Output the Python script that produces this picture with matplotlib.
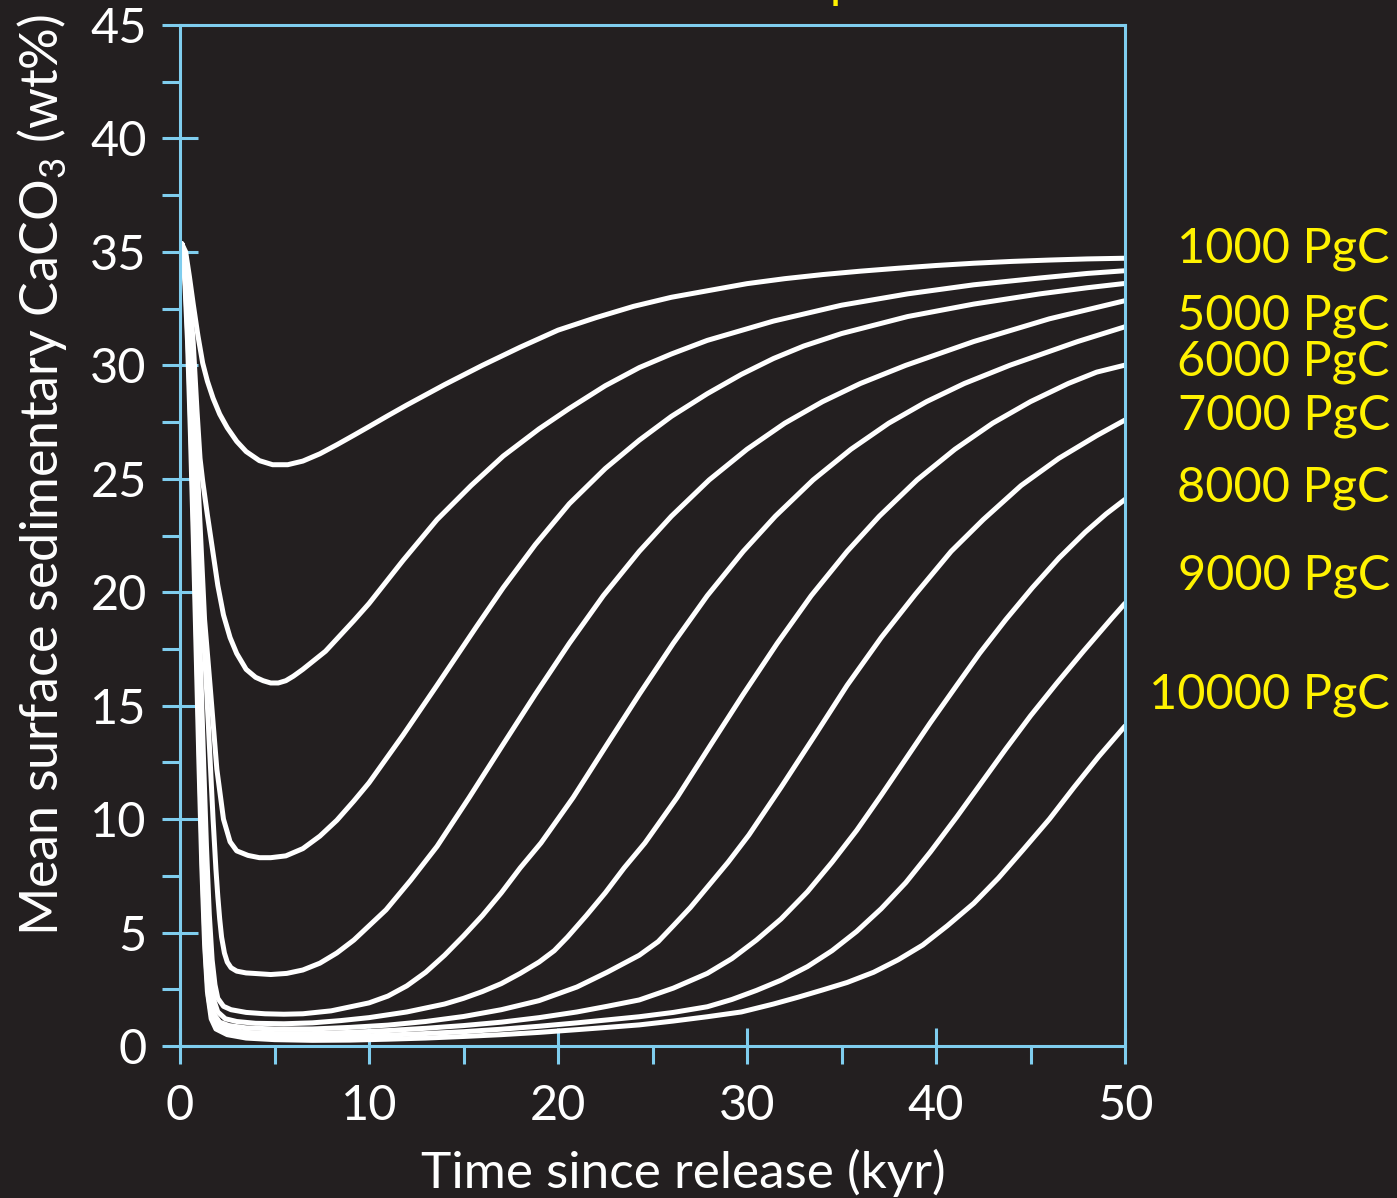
import numpy as np
import matplotlib.pyplot as plt
from matplotlib.ticker import MultipleLocator

plt.rcParams['font.family'] = ['Lato', 'DejaVu Sans']
plt.rcParams['mathtext.default'] = 'regular'

# mean surface CaCO3 (wt%) vs time since release (kyr), one run per release size
t1000 = [0, 0.1, 0.3, 0.5, 0.7, 0.95, 1.2, 1.45, 1.75, 2.1, 2.5, 3.0, 3.5, 4.2, 4.9, 5.7, 6.5, 7.4, 8.3, 9.2,
         10, 11, 12, 14, 16, 18, 20, 22, 24, 26, 28, 30, 32, 34, 36, 38, 40, 42, 44, 46, 48, 50]
c1000 = [35.2, 35.35, 35.0, 33.9, 32.7, 31.3, 30.1, 29.3, 28.55, 27.85, 27.25, 26.65, 26.2, 25.8, 25.62, 25.62,
         25.78, 26.1, 26.5, 26.92, 27.3, 27.78, 28.25, 29.15, 30.0, 30.8, 31.55, 32.1, 32.6, 33.0, 33.3, 33.6,
         33.82, 34.0, 34.15, 34.28, 34.4, 34.5, 34.58, 34.64, 34.69, 34.72]

t2000 = [0, 0.1, 0.3, 0.5, 0.7, 0.9, 1.06, 1.2, 1.45, 1.7, 2.0, 2.3, 2.65, 3.0, 3.5, 4.0, 4.4, 4.8, 5.2, 5.6,
         6.0, 6.5, 7.7, 9.2, 10, 11.8, 13.6, 15.4, 17.1, 19, 20.6, 22.5, 24.3, 26, 27.9, 31.4, 35, 38.5, 42,
         45.5, 48, 50]
c2000 = [35.2, 35.35, 34.8, 33.2, 31.0, 28.0, 25.9, 24.9, 23.4, 22.0, 20.3, 19.0, 18.0, 17.3, 16.6, 16.25, 16.1,
         16.0, 16.0, 16.1, 16.3, 16.6, 17.4, 18.75, 19.5, 21.4, 23.2, 24.7, 26.0, 27.2, 28.1, 29.1, 29.9, 30.5,
         31.1, 31.95, 32.65, 33.15, 33.55, 33.85, 34.05, 34.17]

t3000 = [0, 0.1, 0.3, 0.5, 0.7, 0.9, 1.1, 1.3, 1.6, 1.95, 2.3, 2.65, 3.0, 3.6, 4.2, 4.8, 5.6, 6.5, 7.4, 8.3,
         9.2, 10, 11.8, 13.6, 15.7, 17.1, 18.8, 20.6, 22.5, 24.3, 26, 27.9, 29.7, 31.4, 33, 35, 38.5, 42, 45.5,
         48, 50]
c3000 = [35.2, 35.35, 34.5, 32.5, 29.5, 25.8, 22.3, 18.8, 15.8, 12.2, 10.0, 9.0, 8.6, 8.4, 8.3, 8.3, 8.38, 8.7,
         9.25, 9.95, 10.8, 11.6, 13.7, 15.9, 18.5, 20.2, 22.1, 23.9, 25.45, 26.7, 27.75, 28.75, 29.6, 30.3,
         30.85, 31.4, 32.15, 32.7, 33.15, 33.42, 33.61]

t4000 = [0, 0.1, 0.3, 0.5, 0.7, 0.9, 1.05, 1.2, 1.4, 1.6, 1.75, 1.9, 2.0, 2.1, 2.2, 2.35, 2.5, 2.7, 3.0, 3.5,
         3.9, 4.8, 5.65, 6.5, 7.4, 8.3, 9.2, 10.9, 12.2, 13.6, 15.3, 17.1, 18.8, 20.6, 22.4, 24.3, 26, 28, 30,
         32, 34, 36, 38.4, 42, 46, 50]
c4000 = [35.2, 35.35, 34.4, 32.0, 28.5, 24.0, 21.2, 18.8, 15.8, 12.5, 10.0, 7.8, 6.6, 5.6, 4.8, 4.1, 3.7, 3.45,
         3.3, 3.22, 3.2, 3.15, 3.2, 3.35, 3.65, 4.1, 4.67, 6.0, 7.3, 8.8, 10.95, 13.3, 15.5, 17.75, 19.85, 21.8,
         23.35, 24.95, 26.3, 27.45, 28.4, 29.2, 30.0, 31.05, 32.05, 32.85]

t5000 = [0, 0.1, 0.3, 0.5, 0.7, 0.9, 1.1, 1.25, 1.4, 1.55, 1.7, 1.85, 2.0, 2.3, 2.7, 3.5, 4.5, 5.5, 6.5, 8, 10,
         11, 12, 13, 14, 15, 16, 17, 18, 19.1, 20.8, 22.6, 24.3, 26.1, 27.9, 29.8, 31.5, 33.5, 35.5, 37.5,
         39.5, 41.5, 43.9, 47.5, 50]
c5000 = [35.2, 35.35, 34.2, 31.5, 27.0, 21.8, 16.5, 12.5, 8.8, 5.8, 3.8, 2.7, 2.1, 1.75, 1.6, 1.48, 1.42, 1.4,
         1.42, 1.55, 1.9, 2.2, 2.65, 3.25, 4.0, 4.85, 5.75, 6.75, 7.85, 8.95, 10.95, 13.3, 15.5, 17.75, 19.85,
         21.8, 23.35, 24.95, 26.3, 27.45, 28.4, 29.2, 30.0, 31.05, 31.7]

t6000 = [0, 0.1, 0.3, 0.5, 0.7, 0.9, 1.05, 1.2, 1.35, 1.5, 1.65, 1.8, 2.0, 2.4, 3, 4, 5.5, 7, 8.5, 10, 12, 14,
         15, 16, 17, 18, 19, 19.8, 20.5, 21.5, 22.5, 23.5, 24.6, 26.3, 28.1, 29.8, 31.6, 33.4, 35.3, 37.0,
         39.0, 41.0, 43.0, 45.0, 47.0, 48.5, 50]
c6000 = [35.2, 35.35, 34.0, 31.0, 26.0, 20.5, 16.0, 11.5, 7.8, 4.8, 3.0, 2.0, 1.5, 1.2, 1.08, 1.0, 0.98, 1.02,
         1.12, 1.25, 1.5, 1.85, 2.1, 2.4, 2.75, 3.2, 3.7, 4.2, 4.8, 5.75, 6.75, 7.85, 8.95, 10.95, 13.3, 15.5,
         17.75, 19.85, 21.8, 23.35, 24.95, 26.3, 27.45, 28.4, 29.2, 29.7, 30.01]

t7000 = [0, 0.1, 0.3, 0.5, 0.7, 0.85, 1.0, 1.15, 1.3, 1.45, 1.6, 1.8, 2.1, 2.6, 3.5, 5, 7, 9, 11, 13, 15, 17,
         19, 21, 22.6, 24.3, 25.3, 26.1, 27, 28, 29, 30.1, 31.8, 33.6, 35.3, 37.1, 38.9, 40.8, 42.5, 44.5, 46.5,
         48.5, 50]
c7000 = [35.2, 35.35, 33.8, 30.5, 25.0, 20.0, 15.0, 10.5, 6.5, 3.6, 2.2, 1.4, 1.05, 0.9, 0.8, 0.75, 0.75, 0.82,
         0.92, 1.08, 1.3, 1.6, 2.0, 2.6, 3.25, 4.0, 4.6, 5.3, 6.1, 7.1, 8.1, 9.3, 11.4, 13.7, 15.9, 18.0, 19.9,
         21.8, 23.2, 24.7, 25.9, 26.9, 27.59]

t8000 = [0, 0.1, 0.3, 0.5, 0.65, 0.8, 0.95, 1.1, 1.25, 1.4, 1.55, 1.75, 2.0, 2.6, 3.5, 5, 7, 9, 11, 13, 15, 17,
         19, 21, 22.6, 24.3, 26.1, 27.9, 29.2, 30.5, 31.8, 33.2, 34.5, 35.8, 37.1, 38.4, 39.7, 41.1, 42.3, 43.7,
         45.1, 46.5, 47.9, 49, 50]
c8000 = [35.2, 35.35, 33.6, 30.0, 26.0, 21.5, 16.5, 11.5, 7.0, 3.8, 2.2, 1.3, 0.95, 0.72, 0.6, 0.55, 0.55, 0.6,
         0.68, 0.78, 0.9, 1.05, 1.25, 1.5, 1.75, 2.03, 2.55, 3.2, 3.85, 4.67, 5.6, 6.8, 8.1, 9.5, 11.05, 12.65,
         14.25, 15.9, 17.3, 18.8, 20.2, 21.5, 22.65, 23.45, 24.09]

t9000 = [0, 0.1, 0.3, 0.45, 0.6, 0.75, 0.9, 1.05, 1.2, 1.35, 1.5, 1.7, 2.0, 2.6, 3.5, 5, 7, 9, 11, 13, 15, 17,
         19, 21, 22.6, 24.3, 26.1, 27.9, 29.2, 30.5, 31.8, 33.2, 34.5, 35.8, 37.1, 38.4, 39.7, 41.1, 42.4, 43.7,
         45, 46.4, 47.8, 49.3, 50]
c9000 = [35.2, 35.35, 33.4, 30.5, 26.5, 22.0, 17.0, 12.0, 7.5, 4.0, 2.2, 1.2, 0.8, 0.57, 0.45, 0.4, 0.4, 0.43,
         0.48, 0.55, 0.63, 0.74, 0.87, 1.02, 1.15, 1.29, 1.48, 1.73, 2.05, 2.45, 2.9, 3.5, 4.2, 5.05, 6.05, 7.2,
         8.55, 10.1, 11.6, 13.1, 14.55, 16.0, 17.4, 18.85, 19.51]

t10000 = [0, 0.1, 0.25, 0.4, 0.55, 0.7, 0.85, 1.0, 1.15, 1.3, 1.45, 1.65, 1.9, 2.5, 3.5, 5, 7, 9, 11, 13, 15, 17,
          19, 21, 22.6, 24.3, 26.1, 27.9, 29.7, 31.4, 32.7, 34, 35.3, 36.7, 38, 39.3, 40.6, 42, 43.3, 44.6, 46,
          47.3, 48.6, 50]
c10000 = [35.2, 35.35, 33.8, 31.0, 27.0, 22.5, 17.5, 12.5, 8.0, 4.5, 2.4, 1.2, 0.75, 0.5, 0.35, 0.28, 0.25, 0.26,
          0.3, 0.35, 0.42, 0.5, 0.6, 0.72, 0.82, 0.93, 1.1, 1.29, 1.5, 1.85, 2.15, 2.47, 2.8, 3.25, 3.8, 4.45, 5.3,
          6.29, 7.4, 8.64, 10.0, 11.4, 12.75, 14.1]

runs = [(t1000, c1000), (t2000, c2000), (t3000, c3000), (t4000, c4000), (t5000, c5000),
        (t6000, c6000), (t7000, c7000), (t8000, c8000), (t9000, c9000), (t10000, c10000)]

labels = ['1000 PgC', '5000 PgC', '6000 PgC', '7000 PgC', '8000 PgC', '9000 PgC', '10000 PgC']
label_y = [34.52, 31.56, 29.57, 27.15, 23.99, 20.10, 14.88]

bg = '#231f20'
axcol = '#7fcdee'
yellow = '#fff200'

fig = plt.figure(figsize=(13.97, 11.98), dpi=100, facecolor=bg)
ax = fig.add_axes([180 / 1397, 1 - 1046 / 1198, 945 / 1397, 1021 / 1198])
ax.set_facecolor(bg)

for t, c in runs:
    ax.plot(t, c, color='white', lw=3.6, solid_capstyle='round', solid_joinstyle='round')

ax.set_xlim(0, 50)
ax.set_ylim(0, 45)
ax.xaxis.set_major_locator(MultipleLocator(10))
ax.xaxis.set_minor_locator(MultipleLocator(5))
ax.yaxis.set_major_locator(MultipleLocator(5))
ax.yaxis.set_minor_locator(MultipleLocator(2.5))

for s in ax.spines.values():
    s.set_color(axcol)
    s.set_linewidth(2.2)

ax.tick_params(which='major', direction='inout', length=26, width=2.2, color=axcol,
               labelcolor='white', labelsize=35)
ax.tick_params(which='minor', direction='out', length=13, width=2.2, color=axcol)
ax.tick_params(axis='x', which='major', pad=14)
ax.tick_params(axis='y', which='major', pad=11)

for lab, y in zip(labels, label_y):
    ax.text(1.2804, y, lab, transform=ax.get_yaxis_transform(), ha='right', va='baseline',
            color=yellow, fontsize=35, clip_on=False)

fig.text(58 / 1397, 1 - 475 / 1198, 'Mean surface sedimentary CaCO$_3$ (wt%)', rotation=90,
         rotation_mode='anchor', ha='center', va='baseline', color='white', fontsize=37.5)
fig.text(683 / 1397, 10 / 1198, 'Time since release (kyr)', ha='center', va='baseline',
         color='white', fontsize=37)

# tail of the heading that sits above the frame
fig.text(830 / 1397, 1 + 2 / 1198, 'p', ha='left', va='baseline', color=yellow, fontsize=35)

fig.savefig('out.png', dpi=100, facecolor=bg)
